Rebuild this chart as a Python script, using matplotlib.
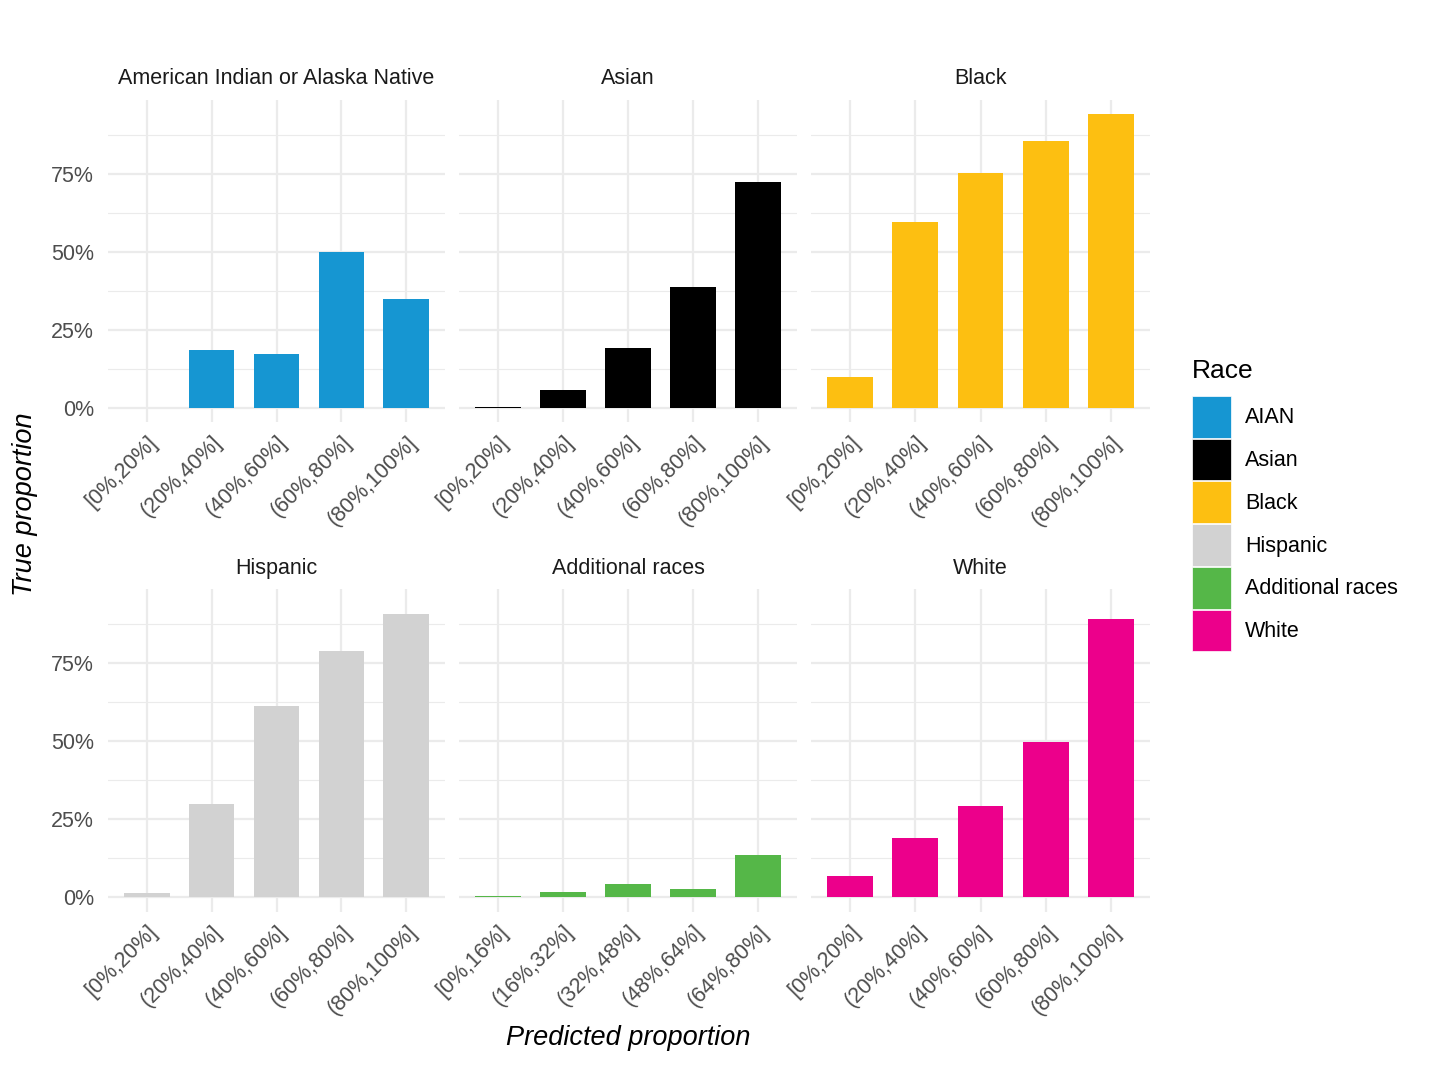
import matplotlib
matplotlib.use("Agg")
import matplotlib.pyplot as plt
from matplotlib.patches import Patch

plt.rcParams["font.family"] = ["Liberation Sans", "DejaVu Sans"]

# panel order as in the facet layout
races = ["American Indian or Alaska Native", "Asian", "Black",
         "Hispanic", "Additional races", "White"]
legend_labels = ["AIAN", "Asian", "Black", "Hispanic", "Additional races", "White"]
colors = ["#1696D2", "#000000", "#FDBF11", "#D2D2D2", "#55B748", "#EC008B"]

bins_standard = ["[0%,20%]", "(20%,40%]", "(40%,60%]", "(60%,80%]", "(80%,100%]"]
bins_additional = ["[0%,16%]", "(16%,32%]", "(32%,48%]", "(48%,64%]", "(64%,80%]"]

# true proportion (%) per predicted-proportion bin
aian = [0.0, 18.5, 17.2, 49.9, 34.8]
asian = [0.3, 5.6, 19.0, 38.6, 72.3]
black = [9.9, 59.5, 75.2, 85.4, 94.1]
hispanic = [1.4, 30.0, 61.4, 78.8, 90.9]
additional = [0.2, 1.5, 4.2, 2.6, 13.5]
white = [6.6, 18.9, 29.3, 49.6, 89.3]

values = [aian, asian, black, hispanic, additional, white]
bin_labels = [bins_standard, bins_standard, bins_standard,
              bins_standard, bins_additional, bins_standard]

W, H = 1430, 1072
fig = plt.figure(figsize=(W / 100, H / 100), dpi=100)

col_x = [(108, 445), (459, 797), (811, 1150)]
row_y = [(99.5, 422.2), (589.0, 911.7)]

ymax = max(max(v) for v in values)
ylim = (-0.05 * ymax, ymax * 1.05)

grid_col = "#EBEBEB"
tick_size = 15.5

for i, race in enumerate(races):
    r, c = divmod(i, 3)
    x0, x1 = col_x[c]
    y0, y1 = row_y[r]
    ax = fig.add_axes([x0 / W, 1 - y1 / H, (x1 - x0) / W, (y1 - y0) / H])

    xs = list(range(1, 6))
    ax.bar(xs, values[i], width=0.7, color=colors[i], zorder=3)

    ax.set_xlim(0.4, 5.6)
    ax.set_ylim(*ylim)
    ax.set_yticks([0, 25, 50, 75])
    ax.set_yticks([12.5, 37.5, 62.5, 87.5], minor=True)
    ax.set_xticks(xs)
    ax.set_xticklabels(bin_labels[i], rotation=45, ha="right",
                       rotation_mode="anchor", fontsize=tick_size, color="#4D4D4D")
    if c == 0:
        ax.set_yticklabels(["0%", "25%", "50%", "75%"], fontsize=tick_size,
                           color="#4D4D4D")
    else:
        ax.set_yticklabels([])

    ax.grid(True, which="major", color=grid_col, linewidth=1.6, zorder=0)
    ax.grid(True, which="minor", axis="y", color=grid_col, linewidth=0.8, zorder=0)
    ax.tick_params(axis="x", which="both", length=0, pad=7)
    ax.tick_params(axis="y", which="both", length=0, pad=10)
    for s in ax.spines.values():
        s.set_visible(False)

    ax.set_title(race, fontsize=15.5, color="#1A1A1A", pad=11)

fig.text(25 / W, 1 - 504 / H, "True proportion", rotation=90, style="italic",
         fontsize=19.5, ha="center", va="center")
fig.text(628 / W, 1 - 1038 / H, "Predicted proportion", style="italic",
         fontsize=19.5, ha="center", va="center")

# legend title drawn separately so the key spacing can be tight
fig.text(1192 / W, 1 - 371 / H, "Race", fontsize=19, ha="left", va="center")
handles = [Patch(facecolor=col, edgecolor="white", linewidth=0.5) for col in colors]
leg = fig.legend(handles, legend_labels, loc="upper left",
                 bbox_to_anchor=(1192 / W, 1 - 396 / H), frameon=False,
                 fontsize=15.5, handlelength=1.8,
                 handleheight=2.6, labelspacing=0.05, handletextpad=0.68,
                 borderaxespad=0, borderpad=0)

fig.savefig("out.png", dpi=100, facecolor="white")
